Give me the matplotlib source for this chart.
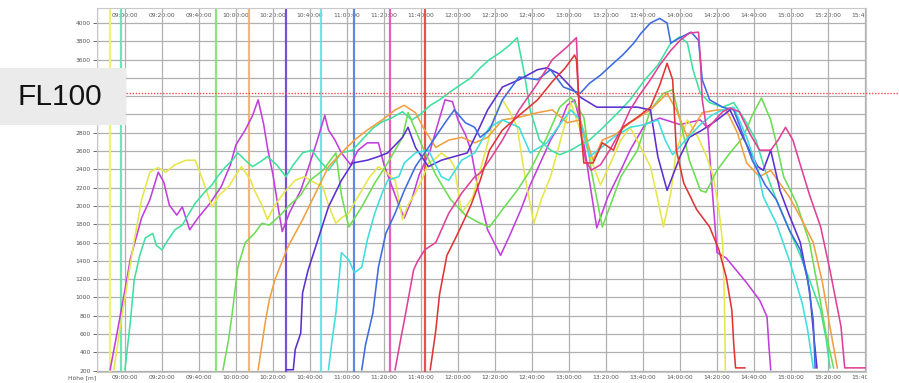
import matplotlib
matplotlib.use("Agg")
import matplotlib.pyplot as plt
from matplotlib.lines import Line2D
from matplotlib.patches import Rectangle
from matplotlib.transforms import blended_transform_factory, Bbox

# ---- data: time in minutes after 09:00:00, altitude in metres ----
violet_t = [-8, -4, 0, 3, 6, 9, 13.5, 18, 21, 24, 28, 31, 35, 39.5, 46, 52, 57, 60, 65, 69, 72, 75, 77, 80, 83, 85,
            89, 95, 100, 104, 108, 110, 113.5, 117, 122, 126, 131, 137, 140, 144, 148, 151, 155, 159, 165, 169, 173,
            177, 180, 184, 187, 191, 196, 203, 208, 214, 219, 224, 230, 235, 239, 243, 247, 251, 255, 261, 268, 273,
            281, 289, 300, 311, 315, 317, 320, 325, 336, 343, 347, 348, 349]
violet_h = [210, 640, 1080, 1430, 1650, 1870, 2070, 2370, 2260, 2010, 1900, 1990, 1740, 1870, 2030, 2210, 2450, 2670,
            2830, 2990, 3160, 2890, 2640, 2340, 1960, 1720, 1930, 2170, 2470, 2720, 2990, 2830, 2720, 2580, 2450, 2610,
            2690, 2690, 2450, 2230, 2010, 1870, 2070, 2340, 2610, 2890, 3160, 3140, 2940, 2780, 2610, 2170, 1740, 1460,
            1680, 1960, 2230, 2450, 2720, 2890, 3100, 3160, 2830, 2280, 1760, 2100, 2390, 2610, 2890, 2960, 2890, 2940,
            2850, 2280, 1490, 1430, 1160, 970, 790, 480, 210]

yellow_t = [-6, -2, 2, 5, 9, 13.5, 18, 22, 27, 33, 38, 43, 47, 51, 56, 60, 63, 68, 70, 74, 77, 81, 87, 92, 97, 102,
            107, 110, 114, 117, 121, 125, 128, 132, 137, 141, 146, 150, 153, 157, 161, 164, 168, 171, 176, 178, 182,
            188, 195, 200, 204, 208, 212, 216, 221, 225, 230, 235, 241, 245, 250, 257, 262, 268, 273, 278, 284, 288,
            291, 295, 298, 304, 309, 314, 318, 321, 323, 324, 324.5]
yellow_h = [210, 750, 1250, 1620, 2070, 2370, 2420, 2370, 2450, 2500, 2500, 2230, 1990, 2120, 2210, 2340, 2430, 2280,
            2170, 2010, 1850, 2010, 2170, 2280, 2320, 2260, 2210, 2010, 1810, 1870, 1920, 2070, 2170, 2310, 2430, 2370,
            2280, 1850, 2010, 2140, 2310, 2470, 2520, 2580, 2500, 2430, 1920, 2100, 2610, 2990, 3160, 3030, 2860, 2340,
            1810, 2070, 2320, 2690, 3130, 2890, 2610, 2230, 2450, 2720, 2860, 2670, 2430, 2070, 1770, 2140, 2610, 2940,
            2780, 2560, 2320, 1960, 1600, 970, 210]

teal_t = [0, 3, 5, 8, 11, 15, 17, 20, 23, 27, 31, 35, 38, 43, 47, 50, 54, 58, 61, 65, 69, 73, 77, 82, 87, 91, 96, 101,
          105, 110, 114, 117, 123, 128, 134, 139, 144, 150, 155, 159, 165, 170, 176, 181, 187, 192, 197, 203, 208, 212,
          216, 219, 224, 230, 235, 241, 246, 251, 257, 265, 273, 281, 288, 295, 300, 304, 307, 311, 316, 323, 329, 335,
          341, 346, 352, 359, 365, 370, 376, 379, 381]
teal_h = [210, 750, 1190, 1460, 1650, 1700, 1570, 1520, 1620, 1740, 1790, 1930, 2030, 2150, 2230, 2320, 2420, 2500, 2580,
          2500, 2430, 2480, 2540, 2450, 2320, 2450, 2580, 2610, 2500, 2390, 2500, 2580, 2610, 2720, 2850, 2920, 2960, 3030,
          2940, 2990, 3100, 3160, 3250, 3320, 3400, 3510, 3600, 3680, 3760, 3840, 3430, 3050, 2720, 2610, 2560, 2610,
          2670, 2720, 2830, 2990, 3160, 3380, 3540, 3780, 3850, 3780, 3490, 3230, 3130, 3080, 3130, 2940, 2720, 2390,
          2070, 1740, 1460, 1190, 860, 540, 230]

green_t = [53, 56, 58, 61, 65, 70, 74, 78, 84, 89, 95, 100, 107, 114, 117, 121, 128, 135, 142, 150, 153, 157, 161, 168,
           176, 184, 191, 197, 204, 212, 219, 228, 235, 241, 248, 252, 258, 268, 277, 284, 291, 296, 300, 305, 311, 314,
           320, 327, 334, 339, 344, 349, 352, 356, 363, 370, 376, 379, 383]
green_h = [210, 540, 830, 1330, 1600, 1700, 1810, 1790, 1900, 2010, 2120, 2280, 2390, 2580, 2120, 1770, 1990, 2250, 2470,
           2750, 3020, 2830, 2640, 2340, 2070, 1900, 1820, 1770, 1960, 2170, 2390, 2750, 3080, 3190, 2970, 2390, 1770,
           2320, 2610, 3050, 3230, 3270, 2940, 2500, 2170, 2150, 2390, 2580, 2750, 2990, 3180, 2940, 2690, 2320, 2030,
           1600, 940, 590, 230]

orange_t = [72, 74, 76, 78, 81, 88, 96, 103, 110, 117, 124, 131, 139, 146, 151, 157, 162, 168, 175, 182, 189, 196, 204,
            213, 223, 231, 239, 246, 253, 258, 265, 273, 284, 293, 298, 304, 312, 320, 325, 331, 336, 343, 349, 359,
            365, 372, 377, 381, 385]
orange_h = [210, 480, 750, 970, 1190, 1550, 1850, 2140, 2430, 2580, 2720, 2830, 2940, 3050, 3100, 3020, 2830, 2640, 2720,
            2750, 2690, 2750, 2940, 2970, 3020, 3050, 2910, 2940, 2500, 2720, 2780, 2910, 3050, 3230, 3050, 2750, 3020,
            3050, 3050, 2800, 2470, 2320, 2390, 2100, 1880, 1600, 1160, 680, 230]

indigo_t = [87.5, 91, 92, 95, 96, 99, 103, 110, 117, 123, 131, 137, 142, 150, 153, 157, 164, 171, 178, 185, 191, 196,
            204, 213, 223, 228, 234, 241, 246, 255, 262, 269, 277, 284, 288, 293, 300, 305, 312, 320, 327, 334, 342,
            345, 349, 354, 359, 365, 370, 372, 374]
indigo_h = [210, 210, 430, 610, 1050, 1300, 1550, 1990, 2280, 2470, 2500, 2540, 2580, 2750, 2860, 2640, 2430, 2500, 2540,
            2580, 2830, 3050, 3300, 3380, 3490, 3510, 3450, 3300, 3190, 3080, 3080, 3080, 3080, 3050, 2540, 2170, 2540,
            2750, 2830, 2940, 3050, 2750, 2430, 2390, 2610, 2170, 1900, 1600, 1080, 640, 230]

cyan_t = [110, 112, 114, 117, 121, 124, 128, 131, 135, 139, 142, 148, 151, 157, 164, 171, 175, 182, 189, 197, 204, 213,
          219, 228, 235, 241, 246, 251, 257, 264, 273, 281, 288, 292, 296, 303, 311, 317, 323, 329, 336, 342, 345, 352,
          359, 366, 369, 372]
cyan_h = [210, 540, 830, 1490, 1410, 1270, 1330, 1630, 1920, 2140, 2280, 2320, 2470, 2580, 2610, 2320, 2280, 2500, 2580,
          2860, 2940, 2860, 2580, 2690, 2890, 3050, 2940, 2540, 2630, 2750, 2860, 2890, 2940, 2720, 2560, 2720, 2890,
          2990, 3050, 3080, 2750, 2390, 2100, 1810, 1410, 940, 640, 230]

blue_t = [128, 130, 134, 137, 141, 146, 151, 157, 164, 173, 178, 184, 189, 192, 197, 204, 213, 223, 230, 237, 246, 251,
          257, 264, 269, 275, 279, 284, 289, 293, 295, 300, 306, 310, 312, 316, 323, 329, 332, 339, 346, 352, 359, 365,
          369, 372, 373]
blue_h = [210, 480, 830, 1330, 1700, 1920, 2170, 2430, 2640, 2910, 3050, 2910, 2860, 2750, 2830, 3160, 3410, 3380, 3490,
          3300, 3230, 3340, 3430, 3560, 3650, 3780, 3890, 4000, 4050, 4000, 3780, 3840, 3900, 3810, 3380, 3160, 3080,
          3050, 2890, 2500, 2230, 2070, 1740, 1520, 1190, 750, 230]

pink_t = [146, 149, 151, 154, 156, 158, 162, 168, 175, 182, 189, 192, 197, 204, 213, 223, 231, 239, 244, 245, 246, 249,
          252, 257, 262, 268, 273, 278, 284, 289, 295, 300, 305, 310, 311, 312, 314, 315, 319, 323, 327, 332, 338, 343,
          349, 353, 357, 361, 365, 370, 376, 381, 387, 389, 400]
pink_h = [210, 540, 750, 1080, 1300, 1390, 1520, 1600, 1920, 2140, 2320, 2360, 2500, 2720, 3050, 3340, 3600, 3740, 3840,
          3270, 2830, 2500, 2390, 2450, 2610, 2830, 3050, 3210, 3380, 3540, 3700, 3810, 3890, 3900, 3600, 3160, 2890,
          2850, 2940, 3030, 3070, 3030, 2780, 2610, 2610, 2720, 2860, 2720, 2450, 2120, 1770, 1300, 680, 230, 230]

red_t = [165, 168, 170, 174, 178, 182, 187, 192, 197, 204, 213, 223, 231, 238, 243, 244, 246, 248, 253, 258, 264, 269,
         277, 284, 289, 293, 296, 297, 298, 302, 309, 316, 321, 325, 328, 329, 330, 335]
red_h = [210, 640, 1030, 1460, 1620, 1790, 2010, 2280, 2610, 2830, 2990, 3160, 3360, 3510, 3650, 3600, 2940, 2470, 2470,
         2690, 2610, 2860, 2970, 3080, 3320, 3560, 3380, 2990, 2610, 2250, 1960, 1770, 1520, 1220, 860, 500, 230, 230]

series = [
    ("violet", violet_t, violet_h, "#c23fdc"),
    ("yellow", yellow_t, yellow_h, "#e6e64a"),
    ("teal", teal_t, teal_h, "#3fe0a0"),
    ("green", green_t, green_h, "#6edc55"),
    ("orange", orange_t, orange_h, "#f0a040"),
    ("indigo", indigo_t, indigo_h, "#5b2fd0"),
    ("cyan", cyan_t, cyan_h, "#3fdede"),
    ("blue", blue_t, blue_h, "#3d6be0"),
    ("pink", pink_t, pink_h, "#e0409a"),
    ("red", red_t, red_h, "#e03535"),
]

launch_t = [-15, -8, -2, 49, 67, 87, 106, 124, 143, 162]
launch_colors = ["#8a55c8", "#f0f070", "#60e0b0", "#80e070", "#f0b070",
                 "#6a3fd0", "#60e0e0", "#4d7de0", "#e050b0", "#e04040"]

x_tick_labels = ["09:00:00", "09:20:00", "09:40:00", "10:00:00", "10:20:00", "10:40:00",
                 "11:00:00", "11:20:00", "11:40:00", "12:00:00", "12:20:00", "12:40:00",
                 "13:00:00", "13:20:00", "13:40:00", "14:00:00", "14:20:00", "14:40:00",
                 "15:00:00", "15:20:00", "15:40:00"]
y_ticks = list(range(200, 4001, 200))
hidden_y_labels = [3000, 3200, 3400]   # covered by the FL100 box in the reference
fl100_alt = 3235

# ---- figure ----
W, H = 899, 383
fig = plt.figure(figsize=(W / 100, H / 100), dpi=100)
ax = fig.add_axes([97 / W, (H - 372) / H, (866 - 97) / W, (372 - 8) / H])
ax.set_xlim(-15.1, 400.5)
ax.set_ylim(185, 4164)

ax.set_xticks([20 * i for i in range(len(x_tick_labels))])
ax.set_xticklabels(x_tick_labels)
ax.set_yticks(y_ticks)
ax.set_yticklabels(["" if v in hidden_y_labels else str(v) for v in y_ticks])
ax.grid(True, color="#b0b0b0", lw=0.9)
ax.set_axisbelow(True)
ax.tick_params(axis="x", labelsize=4.3, length=0, pad=2.5, colors="#555555")
ax.tick_params(axis="y", labelsize=4.3, length=3, width=0.6, pad=1.5, colors="#555555")
for s in ax.spines.values():
    s.set_color("#c8c8c8")
    s.set_linewidth(0.8)

sec = ax.secondary_xaxis("top")
sec.set_xticks([20 * i for i in range(len(x_tick_labels))])
sec.set_xticklabels(x_tick_labels)
sec.tick_params(labelsize=4.3, length=0, pad=-7, colors="#555555")
sec.spines["top"].set_visible(False)

for t, c in zip(launch_t, launch_colors):
    ax.axvline(t, color=c, lw=1.6, alpha=0.9, zorder=2)

for name, t, h, c in series:
    ax.plot(t, h, color=c, lw=1.15, zorder=3, solid_joinstyle="round")

fig.text(82 / W, 1 - 378 / H, "Höhe [m]", fontsize=4.3, color="#555555", ha="center", va="center")

# clip the last time label at the right edge of the grid
clip = Bbox.from_extents(0, 0, 867, H)
fig.canvas.draw()
for lab in list(ax.get_xticklabels()) + list(sec.get_xticklabels()):
    lab.set_clip_on(True)
    lab.set_clip_box(clip)

# FL100 annotation
tr = blended_transform_factory(fig.transFigure, ax.transData)
fig.add_artist(Line2D([126 / W, 1.0], [fl100_alt, fl100_alt], transform=tr, color="#ff4a4a",
                      lw=1.0, ls=(0, (1, 1.2)), zorder=5))
fig.add_artist(Rectangle((0, 1 - 125 / H), 126 / W, 57 / H, transform=fig.transFigure,
                         facecolor="#ebebeb", edgecolor="none", zorder=4))
fig.text(60 / W, 1 - 97 / H, "FL100", fontsize=21.5, family="Liberation Sans", color="#111111",
         ha="center", va="center", zorder=6)

fig.savefig("out.png", dpi=100)
